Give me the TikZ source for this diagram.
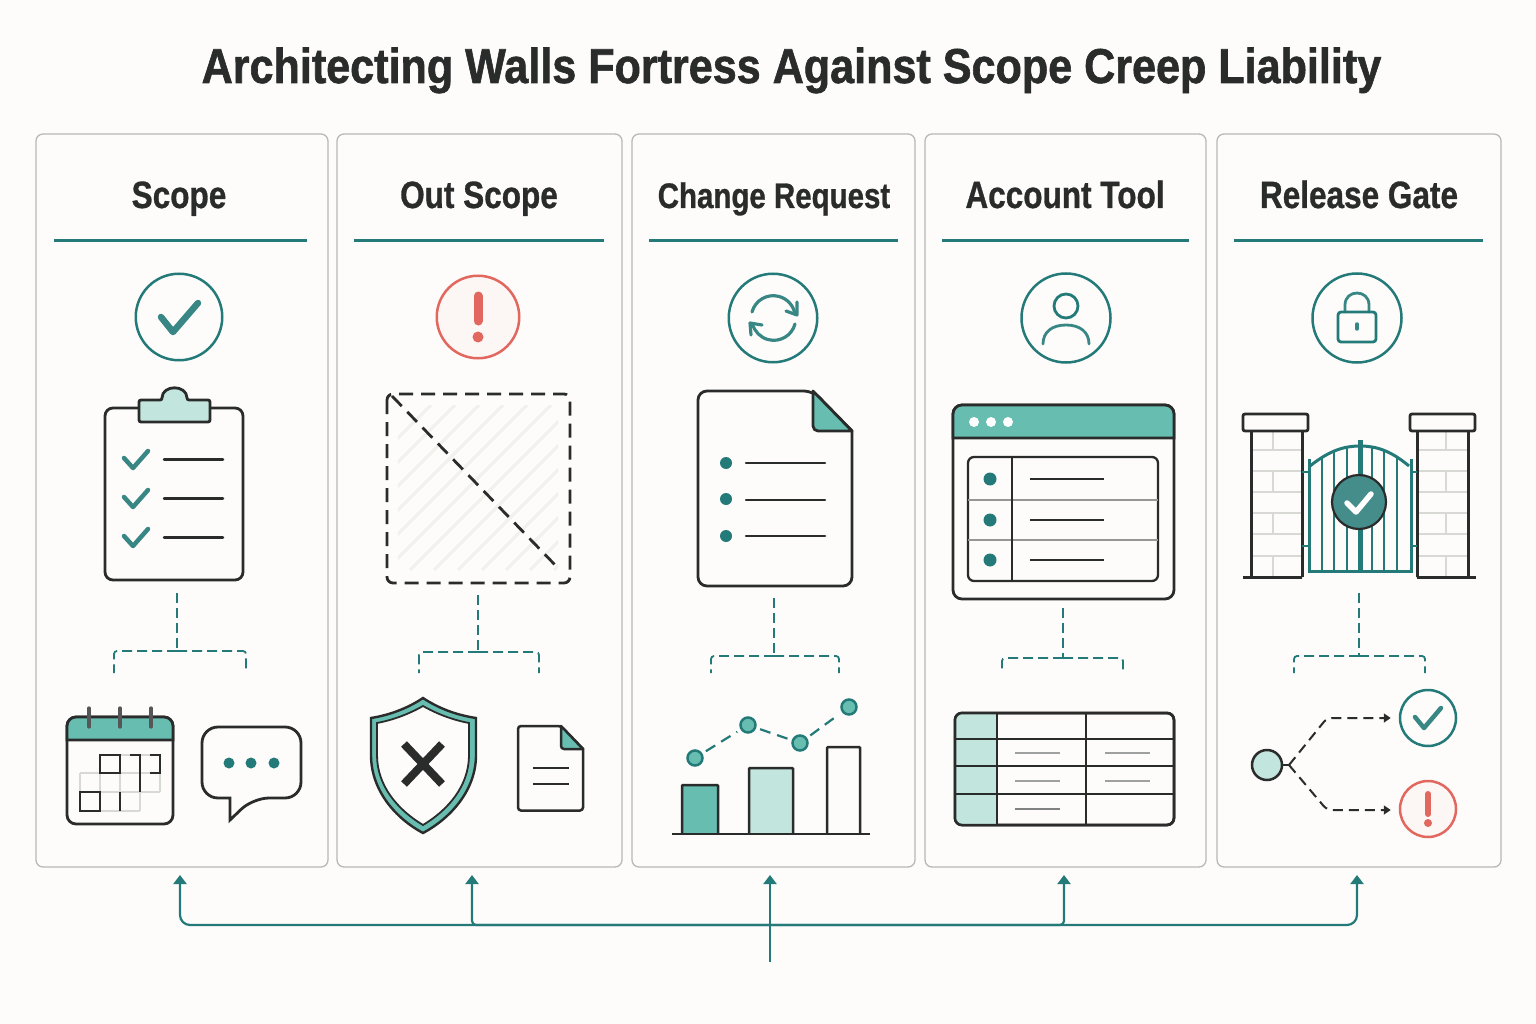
\documentclass[tikz,border=0pt]{standalone}
\usepackage{fontspec}
\setmainfont[FakeStretch=0.83,FakeBold=0.8]{Liberation Sans}
\newfontfamily\titlefont[FakeStretch=0.88,FakeBold=1.2]{Liberation Sans}
\usepackage{xcolor}
\usetikzlibrary{arrows.meta}

\definecolor{paper}{HTML}{FDFCFA}
\definecolor{ink}{HTML}{2A2C2B}
\definecolor{teal}{HTML}{237A78}
\definecolor{mint}{HTML}{66BDB0}
\definecolor{pale}{HTML}{C2E5DE}
\definecolor{alert}{HTML}{E2685F}
\definecolor{edge}{HTML}{B8B8B6}
\definecolor{brick}{HTML}{D8D8D5}
\definecolor{hatch}{HTML}{F1F0ED}

\tikzset{
  card/.style={draw=edge,line width=1.3pt,fill=paper,rounded corners=7pt,minimum width=#1,minimum height=733pt,inner sep=0pt},
  capt/.style={anchor=base,text=ink,font=\fontsize{38}{40}\selectfont\bfseries,inner sep=0pt},
  rule/.style={draw=teal,line width=3pt},
  ring/.style={circle,draw=teal,line width=2.5pt,fill=paper,minimum size=#1,inner sep=0pt},
  redring/.style={circle,draw=alert,line width=2.5pt,fill=alert!4!paper,minimum size=#1,inner sep=0pt},
  tick/.style={draw=teal!90!white,line width=#1,line cap=round,line join=round},
  tray/.style={draw=ink,line width=2.8pt,fill=paper,rounded corners=#1,inner sep=0pt},
  line/.style={draw=ink,line width=2.5pt,line cap=round},
  twig/.style={draw=teal,line width=1.8pt,dash pattern=on 10pt off 5pt,rounded corners=3pt},
  hint/.style={draw=ink,line width=2pt,dash pattern=on 10pt off 6pt,rounded corners=5pt,shorten >=8pt,-{Triangle[length=7pt,width=9pt]}},
  bus/.style={draw=teal,line width=2.2pt,rounded corners=10pt,-{Triangle[length=9pt,width=13pt]}},
  dot/.style={circle,fill=teal,inner sep=0pt,minimum size=#1},
}

\begin{document}
\begin{tikzpicture}[x=1pt,y=-1pt]

  \useasboundingbox (0,0) rectangle (1536,1024);
  \fill[paper] (0,0) rectangle (1536,1024);

  \node[anchor=base,text=ink,font=\titlefont\fontsize{49}{52}\selectfont\bfseries,inner sep=0pt] (Title) at (791.5,83) {Architecting Walls Fortress Against Scope Creep Liability};

  \node[card=292pt] (CaSc) at (182,500.5) {};
  \node[card=285pt] (CaOu) at (479.5,500.5) {};
  \node[card=283pt] (CaCh) at (773.5,500.5) {};
  \node[card=281pt] (CaAc) at (1065.5,500.5) {};
  \node[card=284pt] (CaRe) at (1359,500.5) {};

  \node[capt] (HeSc) at (179,208) {Scope};
  \node[capt] (HeOu) at (479,208) {Out Scope};
  \node[capt,font=\fontsize{35.5}{40}\selectfont\bfseries] (HeCh) at (774,208) {Change Request};
  \node[capt] (HeAc) at (1065,208) {Account Tool};
  \node[capt] (HeRe) at (1359,208) {Release Gate};

  \draw[rule] (54,241) -- (307,241);
  \draw[rule] (354,241) -- (604,241);
  \draw[rule] (649,241) -- (898,241);
  \draw[rule] (942,241) -- (1189,241);
  \draw[rule] (1234,241) -- (1483,241);

  % %Scope
  \node[ring=86.5pt] (RiSc) at (179,317) {};
  \draw[tick=6.5pt] (161,317) -- (173,332) -- (198,303);

  \node[tray=8pt,minimum width=138pt,minimum height=172pt] (Clip) at (174,494) {};
  \draw[draw=ink,line width=2.8pt,fill=pale,rounded corners=2pt] (139,422) -- (139,400) -- (162,400) to[out=90,in=90,looseness=1.6] (187,400) -- (210,400) -- (210,422) -- cycle;
  \draw[tick=4.5pt] (124,458) -- (133,468) -- (148,451);
  \draw[tick=4.5pt] (124,497) -- (133,507) -- (148,490);
  \draw[tick=4.5pt] (124,536) -- (133,546) -- (148,529);
  \draw[line] (164,459.5) -- (223,459.5);
  \draw[line] (164,498.5) -- (223,498.5);
  \draw[line] (164,537.5) -- (223,537.5);

  \coordinate (StSc) at (177,593);
  \coordinate (FoSc) at (177,651);
  \coordinate (LeSc) at (114,673);
  \coordinate (RiLeSc) at (246,673);
  \draw[twig] (StSc) -- (FoSc);
  \draw[twig] (FoSc) -| (LeSc);
  \draw[twig] (FoSc) -| (RiLeSc);

  \node[tray=9pt,minimum width=106pt,minimum height=107pt] (Cale) at (120,770.5) {};
  \draw[draw=ink,line width=2.8pt,fill=mint] (67,740) [rounded corners=9pt] -- (67,717) -- (173,717) [sharp corners] -- (173,740) -- cycle;
  \draw[draw=ink!80,line width=3.2pt,line cap=round] (89,708) -- (89,727);
  \draw[draw=ink!80,line width=3.2pt,line cap=round] (120,708) -- (120,727);
  \draw[draw=ink!80,line width=3.2pt,line cap=round] (151,708) -- (151,727);
  \draw[draw=brick,line width=1.5pt] (80,773) -- (160,773) (80,792) -- (160,792) (100,811) -- (140,811) (120,755) -- (160,755) (80,773) -- (80,792) (100,773) -- (100,792) (120,755) -- (120,792) (160,773) -- (160,792) (140,792) -- (140,811) (120,773) -- (120,792);
  \draw[draw=ink,line width=2.5pt] (100,755) rectangle (120,773);
  \draw[draw=ink,line width=2.5pt] (130,755) -- (140,755) -- (140,773) (150,755) -- (160,755) -- (160,773) -- (150,773) (140,773) -- (140,792);
  \draw[draw=ink,line width=2.5pt] (80,792) rectangle (100,811);
  \draw[draw=ink,line width=2.5pt] (120,792) -- (120,811);

  \draw[draw=ink,line width=2.8pt,fill=paper,rounded corners=16pt] (202,727) -- (301,727) -- (301,798) -- (253,798) [sharp corners] -- (230,820) -- (230,798) [rounded corners=16pt] -- (202,798) -- cycle;
  \node[dot=11pt] (ChA) at (229,763) {};
  \node[dot=11pt] (ChB) at (251,763) {};
  \node[dot=11pt] (ChC) at (274,763) {};

  % %Out scope
  \node[redring=82.5pt] (RiOu) at (478,317) {};
  \draw[draw=alert,line width=9pt,line cap=round] (478,296) -- (478,321);
  \node[circle,fill=alert,minimum size=11pt,inner sep=0pt] (DoOu) at (478,337) {};

  \begin{scope}
    \clip (398,405) rectangle (558,570);
    \draw[draw=hatch,line width=3pt] (266,570) -- (431,405) (290,570) -- (455,405) (314,570) -- (479,405) (338,570) -- (503,405) (362,570) -- (527,405) (386,570) -- (551,405) (410,570) -- (575,405) (434,570) -- (599,405) (458,570) -- (623,405) (482,570) -- (647,405) (506,570) -- (671,405) (530,570) -- (695,405) (554,570) -- (719,405);
  \end{scope}
  \draw[draw=ink,line width=2.8pt,dash pattern=on 14pt off 8pt,rounded corners=6pt] (387,394) rectangle (570,583);
  \draw[draw=ink,line width=2.8pt,dash pattern=on 14pt off 8pt] (392,396) -- (558,568);

  \coordinate (StOu) at (478,595);
  \coordinate (FoOu) at (478,652);
  \coordinate (LeOu) at (419,673);
  \coordinate (RiLeOu) at (539,673);
  \draw[twig] (StOu) -- (FoOu);
  \draw[twig] (FoOu) -| (LeOu);
  \draw[twig] (FoOu) -| (RiLeOu);

  \draw[draw=ink,line width=2.4pt,fill=mint] (423,698) .. controls (408,708) and (390,715) .. (371,718) -- (371,755) .. controls (371,790) and (395,818) .. (423,833) .. controls (451,818) and (476,790) .. (476,755) -- (476,718) .. controls (456,715) and (438,708) .. (423,698) -- cycle;
  \draw[draw=ink,line width=1.8pt,fill=paper] (423,706) .. controls (409,714) and (393,720) .. (377,723) -- (377,755) .. controls (377,786) and (398,810) .. (423,825) .. controls (448,810) and (469,786) .. (469,755) -- (469,723) .. controls (453,720) and (437,714) .. (423,706) -- cycle;
  \draw[draw=ink,line width=8pt] (404,744) -- (442,784) (442,744) -- (404,784);

  \draw[draw=ink,line width=2.5pt,fill=paper,rounded corners=3pt] (518,726) -- (561,726) [sharp corners] -- (583,749) [rounded corners=3pt] -- (583,810.5) -- (518,810.5) -- cycle;
  \draw[draw=ink,line width=2.5pt,fill=mint,line join=round] (561,726) -- (583,749) [rounded corners=3pt] -- (561,749) [sharp corners] -- cycle;
  \draw[draw=ink,line width=1.8pt] (533,768) -- (569,768);
  \draw[draw=ink,line width=1.8pt] (533,784) -- (569,784);

  % %Change request
  \node[ring=88.5pt] (RiCh) at (773,318) {};
  \draw[tick=3.2pt] (752,312) arc[start angle=-165,end angle=-12,radius=22];
  \draw[tick=3.2pt] (786,311) -- (797,315) -- (797,302);
  \draw[tick=3.2pt] (795,324) arc[start angle=15,end angle=165,radius=22];
  \draw[tick=3.2pt] (762,325) -- (750,323) -- (751,335);

  \draw[draw=ink,line width=2.8pt,fill=paper,rounded corners=9pt] (698,391) -- (813,391) [sharp corners] -- (852,431) [rounded corners=9pt] -- (852,586) -- (698,586) -- cycle;
  \draw[draw=ink,line width=2.8pt,fill=mint,line join=round] (813,391) -- (852,431) [rounded corners=5pt] -- (813,431) [sharp corners] -- cycle;
  \node[dot=12pt] (DoChA) at (726,463) {};
  \node[dot=12pt] (DoChB) at (726,499) {};
  \node[dot=12pt] (DoChC) at (726,536) {};
  \draw[line] (746,463) -- (825,463);
  \draw[line] (746,500) -- (825,500);
  \draw[line] (746,536) -- (825,536);

  \coordinate (StCh) at (774,598);
  \coordinate (FoCh) at (774,656);
  \coordinate (LeCh) at (711,673);
  \coordinate (RiLeCh) at (839,673);
  \draw[twig] (StCh) -- (FoCh);
  \draw[twig] (FoCh) -| (LeCh);
  \draw[twig] (FoCh) -| (RiLeCh);

  \draw[draw=ink,line width=2.5pt,fill=mint,rounded corners=1pt] (682,834) -- (682,785) -- (718,785) -- (718,834);
  \draw[draw=ink,line width=2.5pt,fill=pale,rounded corners=1pt] (749,834) -- (749,768) -- (793,768) -- (793,834);
  \draw[draw=ink,line width=2.5pt,fill=paper,rounded corners=1pt] (827,834) -- (827,747) -- (860,747) -- (860,834);
  \draw[draw=ink,line width=2.5pt] (672,834) -- (870,834);

  \node[circle,draw=teal,line width=2.5pt,fill=mint,minimum size=15pt,inner sep=0pt] (PtA) at (695,758) {};
  \node[circle,draw=teal,line width=2.5pt,fill=mint,minimum size=15pt,inner sep=0pt] (PtB) at (748,725) {};
  \node[circle,draw=teal,line width=2.5pt,fill=mint,minimum size=15pt,inner sep=0pt] (PtC) at (800,743) {};
  \node[circle,draw=teal,line width=2.5pt,fill=mint,minimum size=15pt,inner sep=0pt] (PtD) at (849,707) {};
  \draw[draw=teal,line width=2.2pt,dash pattern=on 11pt off 7pt,shorten >=4pt,shorten <=4pt] (PtA) to (PtB);
  \draw[draw=teal,line width=2.2pt,dash pattern=on 11pt off 7pt,shorten >=4pt,shorten <=4pt] (PtB) to (PtC);
  \draw[draw=teal,line width=2.2pt,dash pattern=on 11pt off 7pt,shorten >=4pt,shorten <=4pt] (PtC) to (PtD);

  % %Account tool
  \node[ring=89pt] (RiAc) at (1066,318) {};
  \node[circle,draw=teal,line width=2.8pt,minimum size=24pt,inner sep=0pt] (Head) at (1066,306) {};
  \draw[tick=2.8pt] (1043,344) .. controls (1043,332) and (1052,325) .. (1066,325) .. controls (1080,325) and (1089,332) .. (1089,344);

  \node[tray=9pt,minimum width=221pt,minimum height=194pt] (Wind) at (1063.5,502) {};
  \draw[draw=ink,line width=2.8pt,fill=mint] (953,438) [rounded corners=9pt] -- (953,405) -- (1174,405) [sharp corners] -- (1174,438) -- cycle;
  \node[circle,fill=white,minimum size=10pt,inner sep=0pt] (WiA) at (974,422) {};
  \node[circle,fill=white,minimum size=10pt,inner sep=0pt] (WiB) at (991,422) {};
  \node[circle,fill=white,minimum size=10pt,inner sep=0pt] (WiC) at (1008,422) {};

  \node[tray=6pt,line width=2.3pt,minimum width=190pt,minimum height=124pt] (List) at (1063,519) {};
  \draw[draw=ink!50,line width=2pt] (968,500) -- (1158,500);
  \draw[draw=ink!50,line width=2pt] (968,540) -- (1158,540);
  \draw[draw=ink,line width=2.3pt] (1012,457) -- (1012,581);
  \node[dot=13pt] (LiA) at (990,479) {};
  \node[dot=13pt] (LiB) at (990,520) {};
  \node[dot=13pt] (LiC) at (990,560) {};
  \draw[draw=ink,line width=2pt] (1030,479) -- (1104,479);
  \draw[draw=ink,line width=2pt] (1030,520) -- (1104,520);
  \draw[draw=ink,line width=2pt] (1030,560) -- (1104,560);

  \coordinate (StAc) at (1063,608);
  \coordinate (FoAc) at (1063,658);
  \coordinate (LeAc) at (1002,673);
  \coordinate (RiLeAc) at (1123,673);
  \draw[twig] (StAc) -- (FoAc);
  \draw[twig] (FoAc) -| (LeAc);
  \draw[twig] (FoAc) -| (RiLeAc);

  \node[tray=7pt,minimum width=219pt,minimum height=112pt] (Tabl) at (1064.5,769) {};
  \fill[pale] (997,713) [rounded corners=7pt] -- (955,713) -- (955,825) [sharp corners] -- (997,825) -- cycle;
  \draw[draw=ink,line width=2.5pt,rounded corners=7pt] (955,713) rectangle (1174,825);
  \draw[draw=ink,line width=2.3pt] (997,713) -- (997,825);
  \draw[draw=ink,line width=2.3pt] (1086,713) -- (1086,825);
  \draw[draw=ink,line width=2.3pt] (955,739) -- (1174,739);
  \draw[draw=ink,line width=2.3pt] (955,766) -- (1174,766);
  \draw[draw=ink,line width=2.3pt] (955,794) -- (1174,794);
  \draw[draw=ink!45,line width=1.8pt] (1015,753) -- (1060,753);
  \draw[draw=ink!45,line width=1.8pt] (1015,781) -- (1060,781);
  \draw[draw=ink!60,line width=1.8pt] (1015,809) -- (1060,809);
  \draw[draw=ink!45,line width=1.8pt] (1105,753) -- (1150,753);
  \draw[draw=ink!45,line width=1.8pt] (1105,781) -- (1150,781);

  % %Release gate
  \node[ring=89pt] (RiRe) at (1357,318) {};
  \draw[tick=2.8pt] (1345,312) -- (1345,305) .. controls (1345,289) and (1369,289) .. (1369,305) -- (1369,312);
  \draw[draw=teal,line width=2.8pt,rounded corners=3pt] (1338,312) rectangle (1376,342);
  \draw[tick=3.5pt] (1357,324) -- (1357,329);

  \draw[draw=brick,line width=1.5pt,fill=paper] (1251,431) rectangle (1302,577);
  \draw[draw=brick,line width=1.5pt] (1251,450) -- (1302,450) (1251,471) -- (1302,471) (1251,492) -- (1302,492) (1251,513) -- (1302,513) (1251,534) -- (1302,534) (1251,556) -- (1302,556) (1273,431) -- (1273,450) (1273,471) -- (1273,492) (1273,513) -- (1273,534) (1273,556) -- (1273,577);
  \draw[draw=ink,line width=3pt] (1251,431) -- (1251,577) (1302,431) -- (1302,577) (1243,577) -- (1302,577);
  \node[tray=2pt,minimum width=65pt,minimum height=17pt] (CaLe) at (1275.5,422.5) {};

  \draw[draw=brick,line width=1.5pt,fill=paper] (1417,431) rectangle (1468,577);
  \draw[draw=brick,line width=1.5pt] (1417,450) -- (1468,450) (1417,471) -- (1468,471) (1417,492) -- (1468,492) (1417,513) -- (1468,513) (1417,534) -- (1468,534) (1417,556) -- (1468,556) (1446,431) -- (1446,450) (1446,471) -- (1446,492) (1446,513) -- (1446,534) (1446,556) -- (1446,577);
  \draw[draw=ink,line width=3pt] (1417,431) -- (1417,577) (1468,431) -- (1468,577) (1417,577) -- (1476,577);
  \node[tray=2pt,minimum width=65pt,minimum height=17pt] (CaRi) at (1442.5,422.5) {};

  \draw[draw=teal,line width=3pt] (1309,459) -- (1309,571) -- (1411,571) -- (1411,459);
  \draw[draw=teal,line width=3pt] (1310,466) .. controls (1330,450) and (1345,446) .. (1360,446) .. controls (1375,446) and (1390,450) .. (1409,466);
  \draw[draw=teal,line width=2.3pt] (1322,456) -- (1322,571) (1334,451) -- (1334,571) (1347,448) -- (1347,571) (1372,448) -- (1372,571) (1384,451) -- (1384,571) (1397,456) -- (1397,571);
  \draw[draw=teal,line width=5pt] (1360,440) -- (1360,571);
  \draw[draw=teal,line width=2.8pt] (1302,472) -- (1309,472) (1302,546) -- (1309,546) (1411,472) -- (1417,472) (1411,546) -- (1417,546);
  \node[circle,draw=ink,line width=2.2pt,fill=teal!85!paper,minimum size=54pt,inner sep=0pt] (Seal) at (1359,502) {};
  \draw[draw=white,line width=5.5pt,line cap=round,line join=round] (1347,503) -- (1356,512) -- (1371,494);

  \coordinate (StRe) at (1359,593);
  \coordinate (FoRe) at (1359,656);
  \coordinate (LeRe) at (1294,673);
  \coordinate (RiLeRe) at (1425,673);
  \draw[twig] (StRe) -- (FoRe);
  \draw[twig] (FoRe) -| (LeRe);
  \draw[twig] (FoRe) -| (RiLeRe);

  \node[circle,draw=ink,line width=2.5pt,fill=pale,minimum size=30pt,inner sep=0pt] (Seed) at (1267,765) {};
  \node[ring=56pt] (Yes) at (1428,718) {};
  \draw[tick=4.5pt] (1415,717) -- (1424,728) -- (1441,708);
  \node[redring=56pt] (No) at (1428,809) {};
  \draw[draw=alert,line width=6pt,line cap=round] (1428,794) -- (1428,814);
  \node[circle,fill=alert,minimum size=8pt,inner sep=0pt] (DoNo) at (1428,823) {};

  \coordinate (Sp) at (1289,765);
  \coordinate (BeUp) at (1327,718);
  \coordinate (BeDo) at (1327,810);
  \draw[draw=ink,line width=2pt] (Seed) to (Sp);
  \draw[hint] (Sp) -- (BeUp) -- (Yes);
  \draw[hint] (Sp) -- (BeDo) -- (No.west |- BeDo);

  % %Bottom feed
  \coordinate (Spine) at (770,925);
  \coordinate (Foot) at (770,962);
  \coordinate (TiSc) at (180,875);
  \coordinate (TiOu) at (472,875);
  \coordinate (TiCh) at (770,875);
  \coordinate (TiAc) at (1064,875);
  \coordinate (TiRe) at (1357,875);
  \draw[bus] (Spine) -| (TiSc);
  \draw[bus,rounded corners=4pt] (Spine) -| (TiOu);
  \draw[bus] (Foot) -- (TiCh);
  \draw[bus,rounded corners=4pt] (Spine) -| (TiAc);
  \draw[bus] (Spine) -| (TiRe);

\end{tikzpicture}
\end{document}
